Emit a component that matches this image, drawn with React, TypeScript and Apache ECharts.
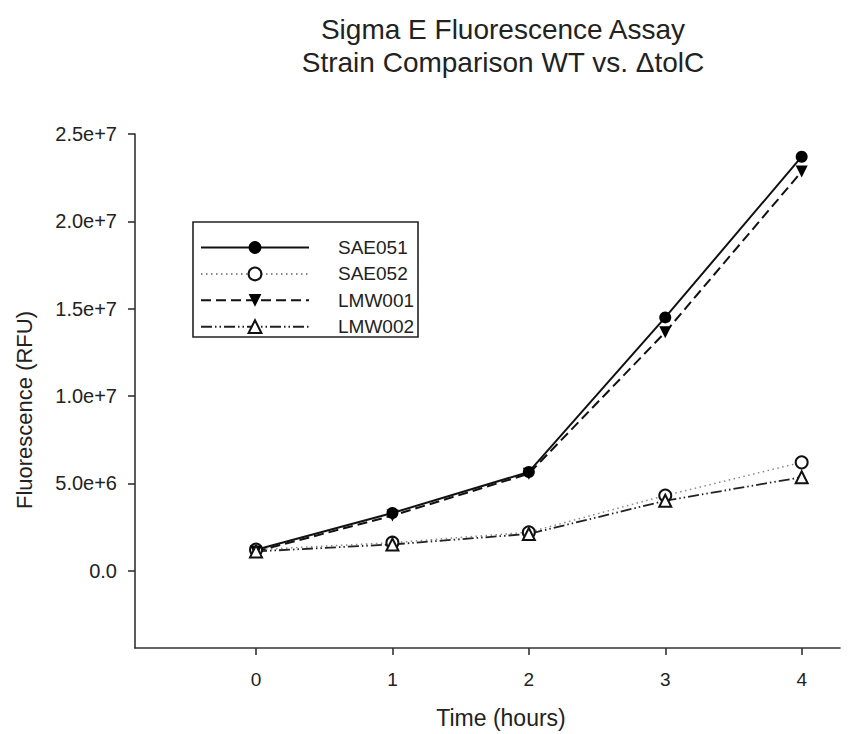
import React, { useEffect, useRef } from "react";
import * as echarts from "echarts";

const hours = [0, 1, 2, 3, 4];
const sae051 = [1.2e6, 3.3e6, 5.65e6, 14.5e6, 23.7e6];
const sae052 = [1.2e6, 1.6e6, 2.2e6, 4.3e6, 6.2e6];
const lmw001 = [1.1e6, 3.15e6, 5.55e6, 13.65e6, 22.85e6];
const lmw002 = [1.1e6, 1.5e6, 2.1e6, 4.0e6, 5.35e6];

const seriesNames = ["SAE051", "SAE052", "LMW001", "LMW002"];
const xTickValues = [0, 1, 2, 3, 4];
const xTickLabels = ["0", "1", "2", "3", "4"];
const yTickValues = [0, 5e6, 1e7, 1.5e7, 2e7, 2.5e7];
const yTickLabels = ["0.0", "5.0e+6", "1.0e+7", "1.5e+7", "2.0e+7", "2.5e+7"];

const titleLines = ["Sigma E Fluorescence Assay", "Strain Comparison WT vs. \u0394tolC"];
const xAxisTitle = "Time (hours)";
const yAxisTitle = "Fluorescence (RFU)";

const FONT = "'Liberation Sans', Arial, sans-serif";
const TXT = "#222";

function pairs(vals: number[]) {
  return hours.map((h, i) => [h, vals[i]]);
}

export default function App() {
  const ref = useRef<HTMLDivElement>(null);
  useEffect(() => {
    if (!ref.current) return;
    const chart = echarts.init(ref.current, undefined, { renderer: "svg" });
    const base = {
      type: "line" as const,
      symbolSize: 12,
      z: 3,
    };
    const txt = (text: string, x: number, y: number, size: number, rotation = 0) => ({
      type: "text",
      x,
      y,
      rotation,
      style: {
        text,
        font: `${size}px ${FONT}`,
        fill: TXT,
        align: "center",
        verticalAlign: "middle",
        textAlign: "center",
        textVerticalAlign: "middle",
      },
    });
    chart.setOption({
      animation: false,
      backgroundColor: "#fff",
      grid: { left: 135, right: 19, top: 134, bottom: 86, containLabel: false },
      xAxis: {
        type: "value",
        min: -0.887,
        max: 4.281,
        axisLine: { show: true, onZero: false, lineStyle: { color: "#333", width: 1.6 } },
        axisTick: { show: true, length: 7, lineStyle: { color: "#333", width: 1.6 }, customValues: xTickValues },
        axisLabel: {
          customValues: xTickValues,
          formatter: (v: number) => xTickLabels[xTickValues.indexOf(v)] ?? "",
          margin: 22,
          fontSize: 19,
          fontFamily: FONT,
          color: TXT,
        },
        splitLine: { show: false },
      },
      yAxis: {
        type: "value",
        min: -4.43e6,
        max: 2.5e7,
        axisLine: { show: true, onZero: false, lineStyle: { color: "#333", width: 1.6 } },
        axisTick: { show: true, length: 7, lineStyle: { color: "#333", width: 1.6 }, customValues: yTickValues },
        axisLabel: {
          customValues: yTickValues,
          formatter: (v: number) => yTickLabels[yTickValues.indexOf(v)] ?? "",
          margin: 18,
          fontSize: 20,
          fontFamily: FONT,
          color: TXT,
        },
        splitLine: { show: false },
      },
      legend: {
        show: true,
        orient: "vertical",
        left: 200,
        top: 238,
        itemWidth: 108,
        itemHeight: 16,
        itemGap: 7.4,
        padding: 0,
        textStyle: { fontSize: 19, fontFamily: FONT, color: TXT, lineHeight: 16, padding: [0, 0, 0, 24] },
        data: seriesNames,
      },
      graphic: [
        {
          type: "rect",
          shape: { x: 193, y: 222, width: 225, height: 115 },
          style: { fill: "none", stroke: "#222", lineWidth: 1.6 },
          z: 10,
        },
        txt(titleLines[0], 503, 29, 28),
        txt(titleLines[1], 503, 62, 28),
        txt(xAxisTitle, 501, 718, 23),
        txt(yAxisTitle, 24, 410, 22, Math.PI / 2),
      ],
      series: [
        {
          ...base,
          name: seriesNames[0],
          data: pairs(sae051),
          symbol: "circle",
          itemStyle: { color: "#000" },
          lineStyle: { color: "#111", width: 2, type: "solid" },
        },
        {
          ...base,
          name: seriesNames[1],
          data: pairs(sae052),
          symbol: "emptyCircle",
          itemStyle: { color: "#111", borderWidth: 1.6 },
          lineStyle: { color: "#888", width: 1.5, type: [1.5, 3.5] },
        },
        {
          ...base,
          name: seriesNames[2],
          data: pairs(lmw001),
          symbol: "triangle",
          symbolRotate: 180,
          itemStyle: { color: "#000" },
          lineStyle: { color: "#111", width: 2, type: [10, 5] },
        },
        {
          ...base,
          name: seriesNames[3],
          data: pairs(lmw002),
          symbol: "emptyTriangle",
          itemStyle: { color: "#111", borderWidth: 1.6 },
          lineStyle: { color: "#222", width: 1.8, type: [11, 3, 1.5, 3, 1.5, 3] },
        },
      ],
    });
    return () => chart.dispose();
  }, []);
  return <div ref={ref} style={{ position: "absolute", left: 0, top: 0, width: 859, height: 734 }} />;
}
